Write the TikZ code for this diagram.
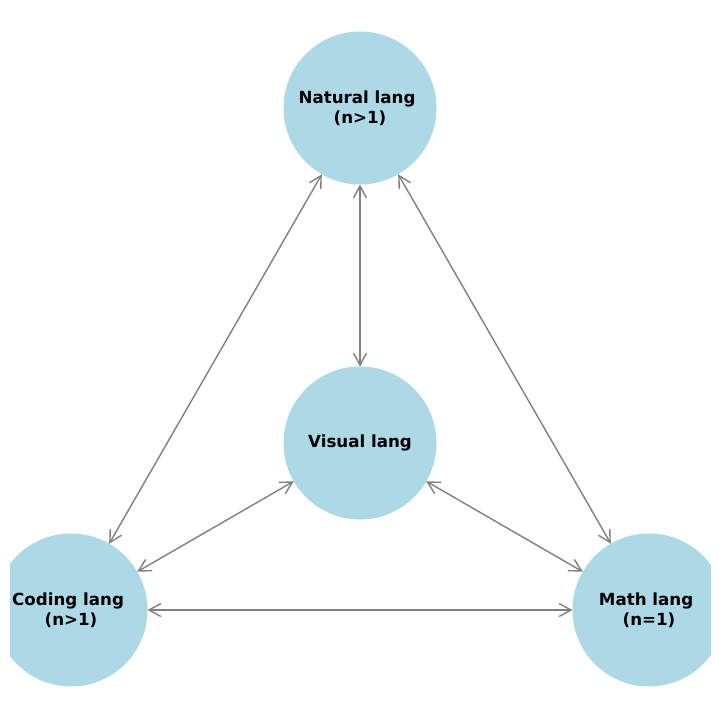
\documentclass[tikz,border=0pt]{standalone}
\usepackage{fontspec}
\setmainfont{DejaVu Sans}
\usetikzlibrary{arrows.meta}
\definecolor{nodeblue}{HTML}{ADD8E6}
\definecolor{edgegray}{HTML}{808080}
\tikzset{
  langnode/.style={circle, fill=nodeblue, minimum size=153pt, inner sep=0pt, outer sep=0pt,
    align=center, font=\fontsize{16.67pt}{20pt}\selectfont\bfseries, text=black},
  link/.style={draw=edgegray, line width=1.4pt,
    {Straight Barb[length=12pt,width=13pt,line width=1.4pt]}-{Straight Barb[length=12pt,width=13pt,line width=1.4pt]}}
}
\begin{document}
\begin{tikzpicture}[x=1pt,y=-1pt]
\useasboundingbox (0,0) rectangle (719,719);
\begin{scope}
\clip (10,0) rectangle (711,719);
\node[langnode] (nat) at (360,108) {Natural lang\kern0.35em\\(n>1)};
\node[langnode] (vis) at (360,443) {Visual lang};
\node[langnode] (cod) at (71,610) {Coding lang\kern0.35em\\(n>1)};
\node[langnode] (mat) at (649,610) {Math lang\kern0.35em\\(n=1)};
\end{scope}
\draw[link] (nat) -- (vis);
\draw[link] (nat) -- (cod);
\draw[link] (nat) -- (mat);
\draw[link] (vis) -- (cod);
\draw[link] (vis) -- (mat);
\draw[link] (cod) -- (mat);
\end{tikzpicture}
\end{document}
